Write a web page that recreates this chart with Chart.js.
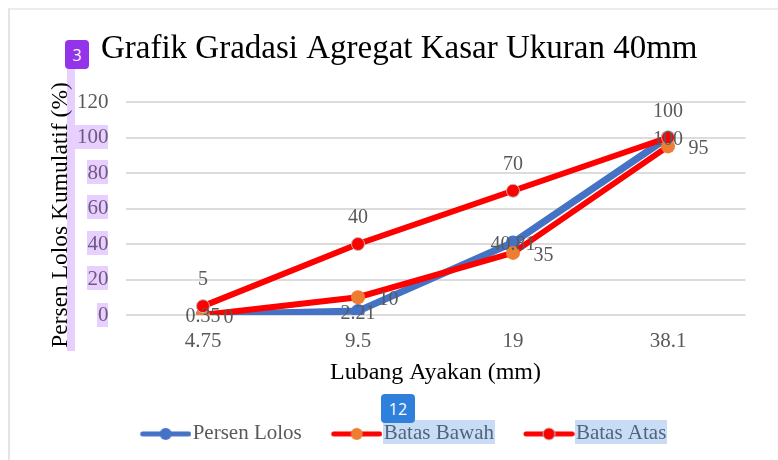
<!DOCTYPE html>
<html><head><meta charset="utf-8">
<style>
html,body{margin:0;padding:0;background:#fff;overflow:hidden}
#wrap{position:relative;width:778px;height:460px;overflow:hidden}
canvas{display:block;filter:blur(.45px)}
.frame{position:absolute;left:8px;top:8px;width:800px;height:800px;border-left:2px solid #e4e4e4;border-top:2px solid #ececec;box-sizing:border-box}
.hl{position:absolute}
.badge{position:absolute;color:#fff;font:16px "Open Sans",sans-serif;display:flex;align-items:center;justify-content:center;border-radius:4px}
</style>
<script src="https://cdn.jsdelivr.net/npm/chart.js@4"></script>
</head><body>
<div id="wrap">
<div class="frame"></div>
<canvas id="c" width="778" height="460"></canvas>
<div class="hl" style="left:67px;top:69px;width:8px;height:282px;background:rgba(168,85,247,.28)"></div>
<div class="hl" style="left:75px;top:125px;width:33px;height:24px;background:rgba(168,85,247,.28)"></div>
<div class="hl" style="left:87px;top:160px;width:21px;height:24px;background:rgba(168,85,247,.28)"></div>
<div class="hl" style="left:87px;top:195px;width:21px;height:24px;background:rgba(168,85,247,.28)"></div>
<div class="hl" style="left:87px;top:231px;width:21px;height:24px;background:rgba(168,85,247,.28)"></div>
<div class="hl" style="left:87px;top:266px;width:21px;height:24px;background:rgba(168,85,247,.28)"></div>
<div class="hl" style="left:97px;top:303px;width:11px;height:24px;background:rgba(168,85,247,.28)"></div>
<div class="hl" style="left:383px;top:420px;width:112px;height:24px;background:rgba(59,130,220,.28)"></div>
<div class="hl" style="left:575px;top:420px;width:92px;height:24px;background:rgba(59,130,220,.28)"></div>
<div class="badge" style="left:65px;top:40px;width:24px;height:29px;background:#9333ea">3</div>
<div class="badge" style="left:381px;top:394px;width:34px;height:29px;background:#2f7fdc">12</div>
</div>
<script>
const categories = ['4.75', '9.5', '19', '38.1'];
const persenLolos = [0.35, 2.21, 40.81, 100];
const batasBawah = [0, 10, 35, 95];
const batasAtas = [5, 40, 70, 100];
const yTicks = [0, 20, 40, 60, 80, 100, 120];
const titleText = 'Grafik Gradasi Agregat Kasar Ukuran 40mm';
const xTitle = 'Lubang Ayakan (mm)';
const yTitle = 'Persen Lolos Kumulatif (%)';
const serif = '"Liberation Serif", serif';

function legendIcon(line, dot, edge) {
  const k = document.createElement('canvas');
  k.width = 60; k.height = 16;
  const g = k.getContext('2d');
  g.translate(9.25, 0);
  g.strokeStyle = line; g.lineWidth = 5; g.lineCap = 'round';
  g.beginPath(); g.moveTo(2, 8); g.lineTo(48, 8); g.stroke();
  g.fillStyle = dot; g.beginPath(); g.arc(25, 8, 6, 0, Math.PI * 2); g.fill();
  if (edge) { g.strokeStyle = edge; g.lineWidth = 1; g.stroke(); }
  return k;
}

const labelPlugin = {
  id: 'pointLabels',
  beforeLayout(chart) {
    const l = chart.legend;
    if (!l._fixedFit) {
      const f = l.fit;
      l.fit = function () { f.call(this); this.height = 66.6; };
      l._fixedFit = true;
    }
  },
  afterLayout(chart) {
    chart.legend.left += 4.25;
    chart.legend.right += 4.25;
  },
  afterDatasetsDraw(chart) {
    const g = chart.ctx;
    g.save();
    g.font = '20px ' + serif;
    g.fillStyle = '#595959';
    g.textBaseline = 'middle';
    chart.data.datasets.forEach((ds, i) => {
      chart.getDatasetMeta(i).data.forEach((el, j) => {
        let dx = 0, dy = 2.5;
        g.textAlign = 'center';
        if (i === 1) { g.textAlign = 'left'; dx = 20.5; }
        if (i === 2) { dy = -26; }
        g.fillText(String(ds.data[j]), el.x + dx, el.y + dy);
      });
    });
    g.restore();
    g.save();
    g.translate(60.5, 215);
    g.rotate(-Math.PI / 2);
    g.font = '23.5px ' + serif;
    g.fillStyle = '#000';
    g.textAlign = 'center';
    g.textBaseline = 'middle';
    g.fillText(yTitle, 0, 0);
    g.restore();
  }
};

new Chart(document.getElementById('c'), {
  type: 'line',
  data: {
    labels: categories,
    datasets: [
      { label: 'Persen Lolos', data: persenLolos, order: 3, borderColor: '#4472c4', backgroundColor: '#4472c4', borderWidth: 7, pointRadius: 7, pointBackgroundColor: '#4472c4', pointBorderWidth: 0, tension: 0 },
      { label: 'Batas Bawah', data: batasBawah, order: 2, borderColor: '#ff0000', backgroundColor: '#ed7d31', borderWidth: 6, pointRadius: 7, pointBackgroundColor: '#ed7d31', pointBorderWidth: 0, tension: 0 },
      { label: 'Batas Atas', data: batasAtas, order: 1, borderColor: '#ff0000', backgroundColor: '#ff0000', borderWidth: 6, pointRadius: 6.5, pointBackgroundColor: '#ff0000', pointBorderColor: '#b9b9b9', pointBorderWidth: 1, tension: 0 }
    ]
  },
  options: {
    responsive: false,
    animation: false,
    layout: { padding: { left: 53, right: 32.5, top: 0, bottom: 0 } },
    plugins: {
      title: { display: true, text: titleText, color: '#000', font: { family: serif, size: 33, weight: 'normal' }, padding: { top: 29.5, bottom: 32.9 } },
      tooltip: { enabled: false },
      legend: {
        position: 'bottom',
        labels: {
          usePointStyle: true,
          pointStyleWidth: 41.5,
          color: '#595959',
          font: { family: serif, size: 21 },
          padding: 30,
          generateLabels(chart) {
            const dots = ['#4472c4', '#ed7d31', '#ff0000'];
            const lines = ['#4472c4', '#ff0000', '#ff0000'];
            const edges = [null, null, '#b9b9b9'];
            return chart.data.datasets.map((d, i) => ({
              text: d.label, fontColor: '#595959', datasetIndex: i,
              pointStyle: legendIcon(lines[i], dots[i], edges[i]), lineWidth: 0, strokeStyle: 'transparent', fillStyle: 'transparent'
            }));
          }
        }
      }
    },
    scales: {
      x: {
        offset: true,
        afterFit(s) { s.height = 78.4; },
        grid: { display: false },
        border: { display: false },
        ticks: { color: '#595959', font: { family: serif, size: 21 }, padding: 6, maxRotation: 0 },
        title: { display: true, text: xTitle, color: '#000', font: { family: serif, size: 24 }, padding: { top: 0, bottom: 6 } }
      },
      y: {
        min: 0, max: 120,
        afterFit(s) { s.width = 72.5; },
        afterBuildTicks(a) { a.ticks = yTicks.map(v => ({ value: v })); },
        grid: { color: '#dcdcdc', lineWidth: 2, drawTicks: false },
        border: { display: false },
        ticks: { color: '#595959', font: { family: serif, size: 21 }, padding: 17 }
      }
    }
  },
  plugins: [labelPlugin]
});
</script>
</body></html>
